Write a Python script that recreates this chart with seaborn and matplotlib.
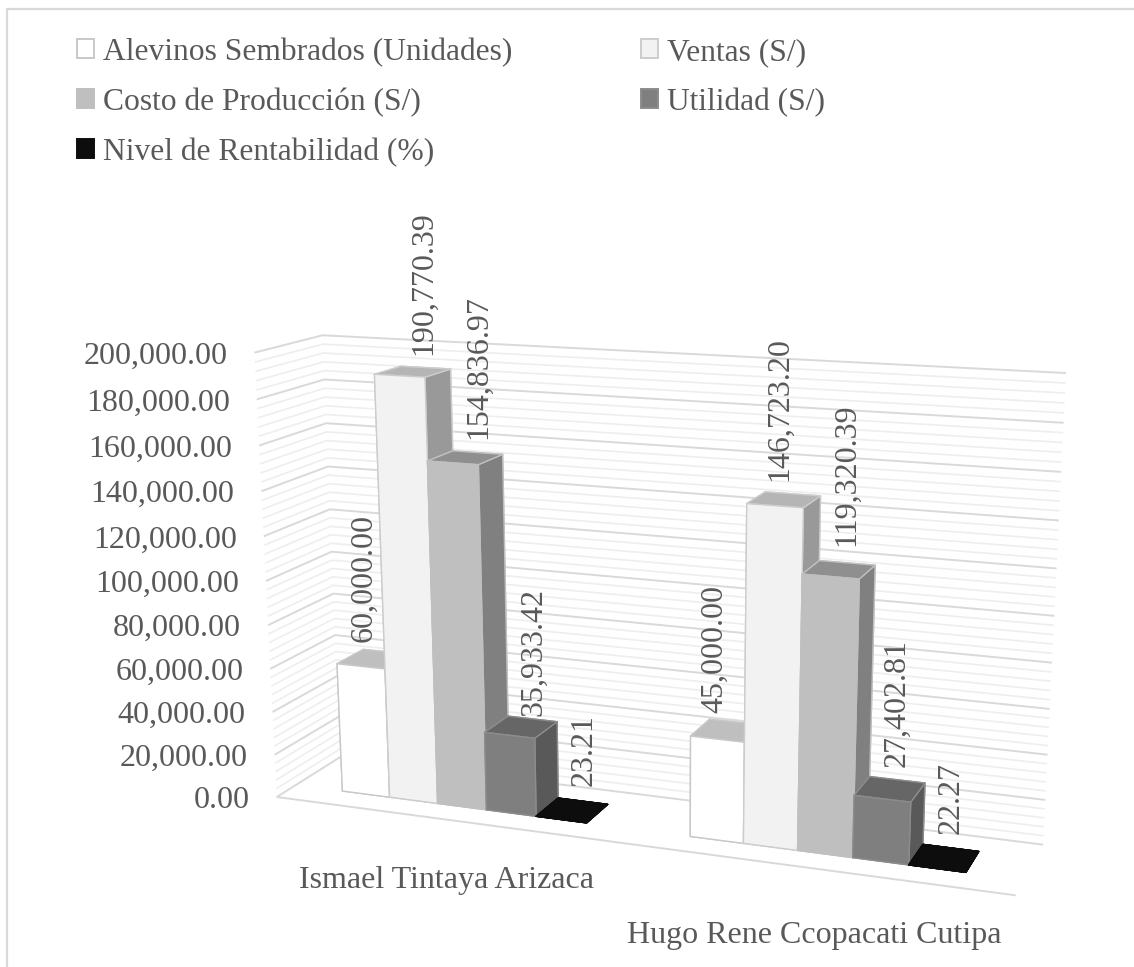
import numpy as np
import seaborn as sns
import matplotlib.pyplot as plt
from matplotlib.patches import Patch
from matplotlib.lines import Line2D
from mpl_toolkits.mplot3d.art3d import Line3DCollection

WIDTH, HEIGHT = 1134, 967

categories = ["Ismael Tintaya Arizaca", "Hugo Rene Ccopacati Cutipa"]
series = ["Alevinos Sembrados (Unidades)", "Ventas (S/)", "Costo de Producción (S/)",
          "Utilidad (S/)", "Nivel de Rentabilidad (%)"]
alevinos = [60000.00, 45000.00]
ventas = [190770.39, 146723.20]
costo = [154836.97, 119320.39]
utilidad = [35933.42, 27402.81]
rentabilidad = [23.21, 22.27]
tick_values = [0, 20000, 40000, 60000, 80000, 100000, 120000, 140000, 160000, 180000, 200000]
gridline_step = 4000

# grey shades per series: front, top, right side, edge
front_colors = ["#ffffff", "#f2f2f2", "#bfbfbf", "#7f7f7f", "#0d0d0d"]
top_colors = ["#bfbfbf", "#b5b5b5", "#8f8f8f", "#666666", "#0d0d0d"]
side_colors = ["#bfbfbf", "#999999", "#808080", "#595959", "#0d0d0d"]
edge_colors = ["#c8c8c8", "#cccccc", "#bfbfbf", "#8c8c8c", "#0d0d0d"]
text_color = "#595959"

# where the corners of the chart box land in the picture (x, depth, value) -> (px, py)
box_corners = [(0, 0, 0), (2, 0, 0), (2, 1, 0), (0, 1, 0), (0, 0, 1), (0, 1, 1), (2, 1, 1)]
box_pixels = [(277, 797), (1016, 895), (1043, 845), (340, 757), (254, 353), (323, 335), (1066, 373)]


def fit_projection(corners, pixels, z_max):
    """Fit the perspective matrix of the Excel style box from its corners."""
    rows, rhs = [], []
    for (x, y, z), (px, py) in zip(corners, pixels):
        v = HEIGHT - py
        rows.append([x, y, z, 1, 0, 0, 0, 0, -px * x, -px * y, -px * z])
        rhs.append(px)
        rows.append([0, 0, 0, 0, x, y, z, 1, -v * x, -v * y, -v * z])
        rhs.append(v)
    p = np.linalg.lstsq(np.array(rows, float), np.array(rhs, float), rcond=None)[0]
    return np.array([
        [p[0], p[1], p[2] / z_max, p[3]],
        [p[4], p[5], p[6] / z_max, p[7]],
        [-0.1, 1, -1e-6, 0],  # depth, only used for sorting the faces of a bar
        [p[8], p[9], p[10] / z_max, 1],
    ])


def put_text(x, y, z, text, dx=0, dy=0, **kwargs):
    """Text at a 3D point, kept upright, shifted by some pixels."""
    vec = M @ np.array([x, y, z, 1.0])
    ax.annotate(text, (vec[0] / vec[3], vec[1] / vec[3]), xytext=(dx, dy), textcoords="offset pixels",
                fontsize=23, color=text_color, zorder=100, annotation_clip=False, **kwargs)


sns.set_theme(style="white")
plt.rcParams["font.family"] = ["Liberation Serif", "DejaVu Serif"]
sns.set_palette(front_colors)

fig = plt.figure(figsize=(WIDTH / 100, HEIGHT / 100), dpi=100)
pad = (WIDTH - HEIGHT) / 2
ax = fig.add_axes([0, -pad / HEIGHT, 1, WIDTH / HEIGHT], projection="3d", computed_zorder=False)
ax.set_xticks([])
ax.set_yticks([])
ax.set_zticks([])
ax.set_axis_off()

M = fit_projection(box_corners, box_pixels, max(tick_values))
ax.get_proj = lambda: M

# gridlines on the side and back wall
minor_lines, major_lines = [], []
for value in np.arange(0, max(tick_values) + 1, gridline_step):
    path = [(0, 0, value), (0, 1, value), (2, 1, value)]
    if value in tick_values:
        major_lines.append(path)
    else:
        minor_lines.append(path)
ax.add_collection3d(Line3DCollection(minor_lines, colors="#eeeeee", linewidths=1.2, zorder=1))
ax.add_collection3d(Line3DCollection(major_lines, colors="#d9d9d9", linewidths=1.4, zorder=2))
ax.add_collection3d(Line3DCollection([[(0, 0, 0), (2, 0, 0)]], colors="#d9d9d9", linewidths=1.4, zorder=2))

# bars, painted left to right so each one covers the side of the one before
all_values = [alevinos, ventas, costo, utilidad, rentabilidad]
gap = 2.0
bar_w = 1 / (len(series) + gap)
depth_front, depth_back = 0.29, 0.71
# the data labels were placed by hand in the original, so each has its own shift
label_dx = [[-10, 11, 13, 13, 12], [-12, -4, 8, 7, 7]]
label_dy = [[17, 17, 19, 11, 24], [17, 19, 24, 22, 24]]
order = 10
for c in range(len(categories)):
    for s in range(len(series)):
        left = c + (gap / 2 + s) * bar_w
        value = all_values[s][c]
        faces = [front_colors[s], top_colors[s], front_colors[s],
                 side_colors[s], front_colors[s], side_colors[s]]
        ax.bar3d(left, depth_front, 0, bar_w, depth_back - depth_front, value,
                 color=faces, shade=False, edgecolor=edge_colors[s], linewidth=1.0,
                 zorder=order)
        order += 1
        put_text(left + bar_w / 2, (depth_front + depth_back) / 2, value, f"{value:,.2f}",
                 dx=label_dx[c][s], dy=label_dy[c][s], rotation=90, ha="center", va="bottom")

# value axis labels
for value in tick_values:
    put_text(0, 0, value, f"{value:,.2f}", dx=-27, dy=0, ha="right", va="center_baseline")

# category labels
category_dx = [0, 2]
category_dy = [-3, -6]
for c, name in enumerate(categories):
    put_text(c + 0.5, 0, -27000, name, dx=category_dx[c], dy=category_dy[c], ha="center", va="center")

ax.viewLim.intervalx = (0, WIDTH)
ax.viewLim.intervaly = (-pad, HEIGHT + pad)

# legend, filled column by column
legend_order = [0, 2, 4, 1, 3]
handles = [Patch(facecolor=front_colors[i], edgecolor=edge_colors[i], linewidth=1.4) for i in legend_order]
labels = [series[i] for i in legend_order]
fig.legend(handles, labels, ncol=2, loc="upper left", bbox_to_anchor=(77 / WIDTH, 1 - 37.5 / HEIGHT),
           frameon=False, fontsize=22.7, labelcolor=text_color, borderpad=0, borderaxespad=0,
           handlelength=0.53, handleheight=0.53, handletextpad=0.28, columnspacing=4.1,
           labelspacing=0.66)

# chart frame, only top and left are inside the crop
fig.add_artist(Line2D([7 / WIDTH, 7 / WIDTH, 1], [0, 1 - 9 / HEIGHT, 1 - 9 / HEIGHT],
                      color="#d9d9d9", lw=1.6))

fig.savefig("out.png", dpi=100)
